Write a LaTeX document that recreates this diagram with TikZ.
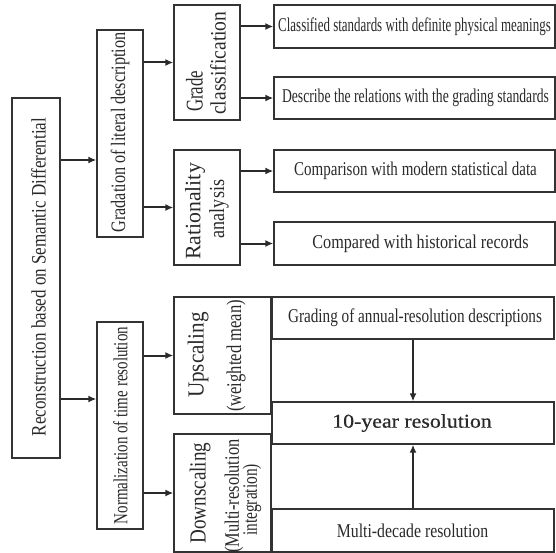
\documentclass[tikz,border=0pt]{standalone}
\usepackage{fontspec}
\setmainfont{Liberation Serif}
\usetikzlibrary{arrows.meta}
\newcommand\tf[3]{\fontsize{#1}{#1}\selectfont\addfontfeature{FakeStretch=#2}\color{#3}}
\definecolor{ink}{HTML}{2A2A2A}
\definecolor{edge}{HTML}{333333}
\begin{document}
\begin{tikzpicture}[x=1pt,y=-1pt,
  box/.style={draw=edge,line width=1.3pt,inner sep=0pt,fill=white},
  txt/.style={inner sep=0pt,text=ink},
  vtxt/.style={txt,rotate=90},
  arr/.style={draw=ink,line width=2pt,-{Latex[length=8pt,width=7pt]}}]
\useasboundingbox (0,0) rectangle (556,553);
% boxes
\node[box,minimum width=48pt,minimum height=360pt] (root) at (36,278) {};
\node[box,minimum width=46pt,minimum height=207pt] (grad) at (120,133.5) {};
\node[box,minimum width=46pt,minimum height=207pt] (norm) at (120,425.5) {};
\node[box,minimum width=66pt,minimum height=115pt] (gc) at (207,62.5) {};
\node[box,minimum width=66pt,minimum height=115pt] (ra) at (207,207.5) {};
\node[box,minimum width=97pt,minimum height=117pt] (up) at (222.5,355.5) {};
\node[box,minimum width=97pt,minimum height=118pt] (down) at (222.5,493) {};
\node[box,minimum width=281pt,minimum height=43pt] (c1) at (414.5,26.5) {};
\node[box,minimum width=281pt,minimum height=42pt] (c2) at (414.5,98) {};
\node[box,minimum width=281pt,minimum height=42pt] (c3) at (414.5,171) {};
\node[box,minimum width=281pt,minimum height=43pt] (c4) at (414.5,243.5) {};
\node[box,minimum width=282pt,minimum height=42pt] (g1) at (413,318) {};
\node[box,minimum width=282pt,minimum height=42pt] (ten) at (413,423) {};
\node[box,minimum width=282pt,minimum height=43pt] (md) at (413,530.5) {};
% texts
\node[vtxt] (troot) at (38.5,277) {\tf{20.5}{0.83}{ink}Reconstruction based on Semantic Differential};
\node[vtxt] (tgrad) at (120,132.5) {\tf{20.5}{0.79}{ink}Gradation of literal description};
\node[vtxt] (tnorm) at (120.5,425.5) {\tf{20}{0.75}{ink}Normalization of time resolution};
\node[vtxt,anchor=south west] (tgc1) at (203,112) {\tf{24}{0.7}{ink}Grade};
\node[vtxt,anchor=south west] (tgc2) at (226,115) {\tf{22}{0.89}{ink}classification};
\node[vtxt] (tra1) at (195,211.5) {\tf{22}{0.99}{ink}Rationality};
\node[vtxt] (tra2) at (219,209) {\tf{21.5}{0.84}{ink}analysis};
\node[vtxt] (tup1) at (198,355) {\tf{23}{0.92}{ink}Upscaling};
\node[vtxt] (tup2) at (236,356) {\tf{21}{0.79}{ink}(weighted mean)};
\node[vtxt] (tdn1) at (200,493) {\tf{23}{0.83}{ink}Downscaling};
\node[vtxt] (tdn2) at (234,496) {\tf{20.5}{0.8}{ink}(Multi-resolution};
\node[vtxt] (tdn3) at (252,500) {\tf{20.5}{0.75}{ink}integration)};
\node[txt] (tc1) at (414.5,26.5) {\tf{19.5}{0.665}{ink}Classified standards with definite physical meanings};
\node[txt] (tc2) at (415.5,98) {\tf{19.5}{0.70}{ink}Describe the relations with the grading standards};
\node[txt] (tc3) at (415.5,171) {\tf{19.5}{0.77}{ink}Comparison with modern statistical data};
\node[txt] (tc4) at (420.5,243.5) {\tf{19.5}{0.83}{ink}Compared with historical records};
\node[txt] (tg1) at (415,318) {\tf{19.5}{0.78}{ink}Grading of annual-resolution descriptions};
\node[txt] (tten) at (412,423) {\tf{19.5}{1.12}{ink}\addfontfeature{FakeBold=0.6}10-year resolution};
\node[txt] (tmd) at (412.5,530.5) {\tf{19.5}{0.81}{ink}Multi-decade resolution};
% connector rows
\coordinate (r1) at (0,160);
\coordinate (r2) at (0,399);
\draw[arr] (root.east |- r1) -- (grad.west |- r1);
\draw[arr] (root.east |- r2) -- (norm.west |- r2);
\draw[arr] (grad.east |- gc) -- (gc.west);
\draw[arr] (grad.east |- ra) -- (ra.west);
\draw[arr] (norm.east |- up) -- (up.west);
\draw[arr] (norm.east |- down) -- (down.west);
\draw[arr] (gc.east |- c1) -- (c1.west);
\draw[arr] (gc.east |- c2) -- (c2.west);
\draw[arr] (ra.east |- c3) -- (c3.west);
\draw[arr] (ra.east |- c4) -- (c4.west);
\draw[arr] (g1.south) -- (ten.north);
\draw[arr] (md.north) -- (ten.south);
\end{tikzpicture}
\end{document}
